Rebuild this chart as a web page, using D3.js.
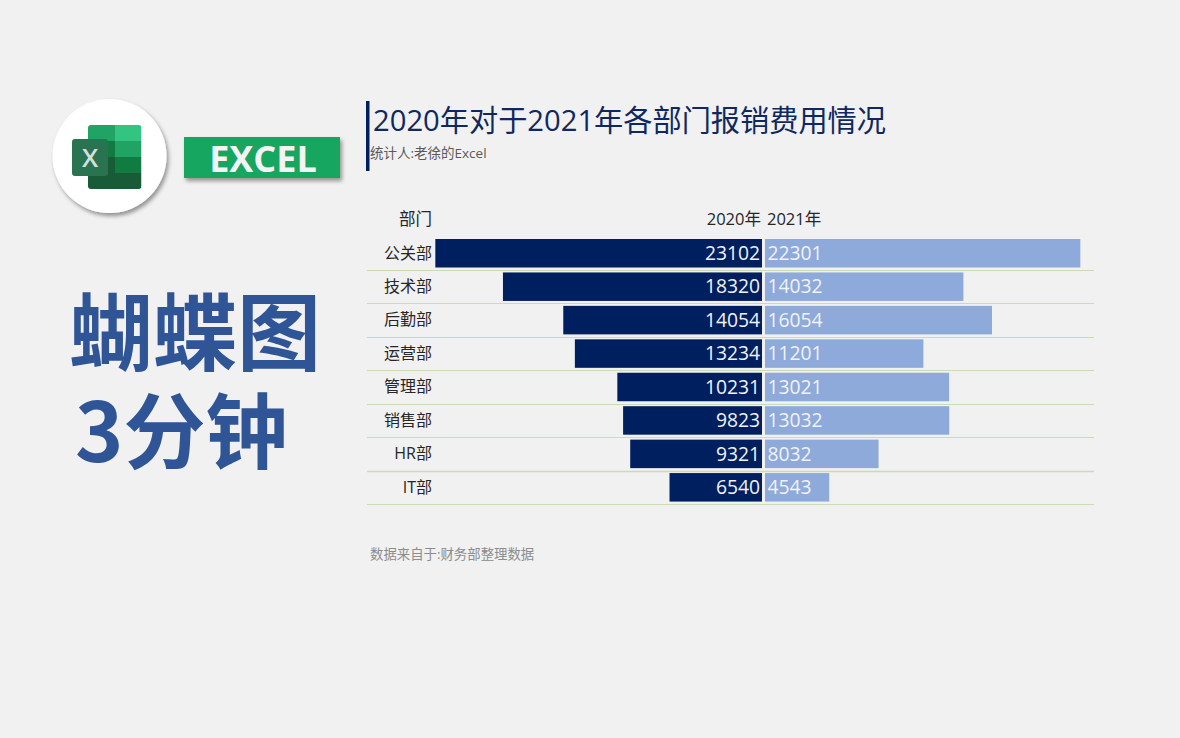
<!DOCTYPE html>
<html>
<head>
<meta charset="utf-8">
<script src="https://cdn.jsdelivr.net/npm/d3@7"></script>
<style>
html, body { margin: 0; padding: 0; background: #f1f1f2; overflow: hidden; }
svg { display: block; }
text { font-family: "Open Sans", "Noto Sans CJK SC", sans-serif; }
.big { font-family: "Noto Sans CJK SC", sans-serif; }
</style>
</head>
<body>
<svg id="chart" width="1180" height="738"></svg>
<script>
/* Data */
const departments = ["公关部", "技术部", "后勤部", "运营部", "管理部", "销售部", "HR部", "IT部"];
const values2020 = [23102, 18320, 14054, 13234, 10231, 9823, 9321, 6540];
const values2021 = [22301, 14032, 16054, 11201, 13021, 13032, 8032, 4543];
const seriesNames = ["2020年", "2021年"];

const svg = d3.select("#chart");

/* Scales */
const y = d3.scaleBand().domain(departments).range([237, 504.5]).paddingInner(0).paddingOuter(0);
const xLeft = d3.scaleLinear().domain([0, 25000]).range([762, 762 - 353.5]);
const xRight = d3.scaleLinear().domain([0, 25000]).range([765, 765 + 353.5]);
const barTop = 2;
const barH = 28.5;

/* Title block */
svg.append("rect").attr("x", 366).attr("y", 101).attr("width", 3.5).attr("height", 70).attr("fill", "#001f5f");
svg.append("text").attr("x", 373).attr("y", 131)
    .attr("font-size", 29.2).attr("fill", "#0f2860")
    .text("2020年对于2021年各部门报销费用情况");
svg.append("text").attr("x", 370).attr("y", 158)
    .attr("font-size", 13.5).attr("fill", "#595959")
    .text("统计人:老徐的Excel");

/* Column headers */
svg.append("text").attr("x", 432).attr("y", 225).attr("text-anchor", "end")
    .attr("font-size", 16.5).attr("fill", "#262626").text("部门");
svg.append("text").attr("x", 761).attr("y", 225).attr("text-anchor", "end")
    .attr("font-size", 16.5).attr("fill", "#262626").text(seriesNames[0]);
svg.append("text").attr("x", 767).attr("y", 225)
    .attr("font-size", 16.5).attr("fill", "#262626").text(seriesNames[1]);

/* Row rules */
svg.append("g").selectAll("line").data(departments).enter().append("line")
    .attr("x1", 367).attr("x2", 1094)
    .attr("y1", d => Math.floor(y(d) + y.bandwidth()) + 0.5)
    .attr("y2", d => Math.floor(y(d) + y.bandwidth()) + 0.5)
    .attr("stroke", "#c9dcb6")
    .attr("stroke-width", d => d === "HR部" ? 1.6 : 1);

/* Bars */
svg.append("g").selectAll("rect").data(departments).enter().append("rect")
    .attr("x", (d, i) => xLeft(values2020[i]))
    .attr("y", d => y(d) + barTop)
    .attr("width", (d, i) => xLeft(0) - xLeft(values2020[i]))
    .attr("height", barH)
    .attr("fill", "#001f5f");

svg.append("g").selectAll("rect").data(departments).enter().append("rect")
    .attr("x", xRight(0))
    .attr("y", d => y(d) + barTop)
    .attr("width", (d, i) => xRight(values2021[i]) - xRight(0))
    .attr("height", barH)
    .attr("fill", "#8eaadb");

/* Labels */
svg.append("g").selectAll("text").data(departments).enter().append("text")
    .attr("x", 432)
    .attr("y", d => y(d) + 21.5)
    .attr("text-anchor", "end")
    .attr("font-size", 16).attr("fill", "#262626")
    .text(d => d);

svg.append("g").selectAll("text").data(departments).enter().append("text")
    .attr("x", 760)
    .attr("y", d => y(d) + 23)
    .attr("text-anchor", "end")
    .attr("font-size", 19.3).attr("fill", "#f2f2f2")
    .text((d, i) => values2020[i]);

svg.append("g").selectAll("text").data(departments).enter().append("text")
    .attr("x", 767.5)
    .attr("y", d => y(d) + 23)
    .attr("font-size", 19.3).attr("fill", "#f2f2f2")
    .text((d, i) => values2021[i]);

/* Source note */
svg.append("text").attr("x", 370).attr("y", 559)
    .attr("font-size", 13.4).attr("fill", "#8c8c8c")
    .text("数据来自于:财务部整理数据");

/* Left hand banner text */
svg.append("text").attr("class", "big").attr("x", 69).attr("y", 364)
    .attr("font-size", 84).attr("font-weight", 700).attr("fill", "#2f5597")
    .text("蝴蝶图");
svg.append("text").attr("class", "big").attr("x", 75).attr("y", 462)
    .attr("font-size", 82).attr("font-weight", 700).attr("fill", "#2f5597")
    .text("3分钟");

/* Excel logo */
const defs = svg.append("defs");
const shadow = defs.append("filter").attr("id", "shadow")
    .attr("x", "-20%").attr("y", "-20%").attr("width", "150%").attr("height", "150%");
shadow.append("feDropShadow").attr("dx", 2).attr("dy", 3).attr("stdDeviation", 2)
    .attr("flood-color", "#000").attr("flood-opacity", 0.4);
defs.append("clipPath").attr("id", "logoClip").append("rect")
    .attr("x", 88).attr("y", 125).attr("width", 53.5).attr("height", 64).attr("rx", 3);

svg.append("circle").attr("cx", 109.5).attr("cy", 156).attr("r", 57)
    .attr("fill", "#fff").attr("filter", "url(#shadow)");

const logoCells = [
    { x: 88, y: 125, w: 27, h: 16, c: "#21a366" },
    { x: 115, y: 125, w: 26.5, h: 16, c: "#33c481" },
    { x: 88, y: 141, w: 27, h: 16, c: "#107c41" },
    { x: 115, y: 141, w: 26.5, h: 16, c: "#21a366" },
    { x: 88, y: 157, w: 27, h: 16, c: "#185c37" },
    { x: 115, y: 157, w: 26.5, h: 16, c: "#107c41" },
    { x: 88, y: 173, w: 53.5, h: 16, c: "#185c37" }
];
svg.append("g").attr("clip-path", "url(#logoClip)")
    .selectAll("rect").data(logoCells).enter().append("rect")
    .attr("x", d => d.x).attr("y", d => d.y)
    .attr("width", d => d.w).attr("height", d => d.h)
    .attr("fill", d => d.c);
svg.append("rect").attr("x", 72).attr("y", 139).attr("width", 36).attr("height", 37).attr("rx", 3)
    .attr("fill", "#2a7350");
svg.append("text").attr("x", 90).attr("y", 166.5).attr("text-anchor", "middle")
    .attr("font-size", 26).attr("font-weight", 600).attr("fill", "#d6dfda")
    .text("X");

/* Excel badge */
svg.append("rect").attr("x", 184).attr("y", 137).attr("width", 156).attr("height", 41)
    .attr("fill", "#13a660").attr("filter", "url(#shadow)");
svg.append("text").attr("x", 263).attr("y", 172).attr("text-anchor", "middle")
    .attr("font-size", 36).attr("font-weight", 700).attr("fill", "#f4f4f4")
    .text("EXCEL");
</script>
</body>
</html>
